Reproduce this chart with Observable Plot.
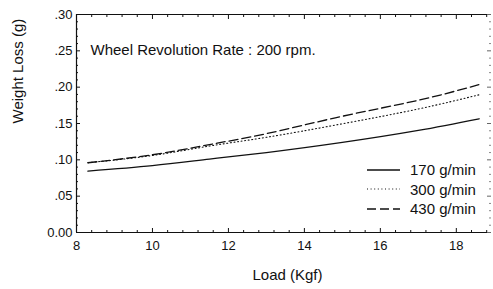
<!DOCTYPE html>
<html><head><meta charset="utf-8">
<script src="https://cdn.jsdelivr.net/npm/d3@7"></script>
<script src="https://cdn.jsdelivr.net/npm/@observablehq/plot@0.6"></script>
<style>
body{margin:0;background:#fff}
#c{position:relative;width:493px;height:289px;font-family:"Liberation Sans",Arial,sans-serif;color:#111}
#legend{position:absolute;left:367px;top:160px;font-size:15px}
#legend .row{display:flex;align-items:center;height:19.5px}
#legend svg{width:36px;height:10px;margin-right:7px}
</style>
</head><body><div id="c"></div>
<script>
const loads = [8.3, 10, 11.5, 13, 15, 17, 18.6];
const rate170 = [0.0845, 0.092, 0.101, 0.110, 0.124, 0.1405, 0.1565];
const rate300 = [0.096, 0.106, 0.119, 0.131, 0.1496, 0.170, 0.1895];
const rate430 = [0.096, 0.107, 0.121, 0.136, 0.160, 0.182, 0.2035];
const seriesNames = ["170 g/min", "300 g/min", "430 g/min"];
const dashes = [null, "1,2.6", "9,4"];
const xMajor = [8, 10, 12, 14, 16, 18];
const xMinor = [8.4, 8.8, 9.2, 9.6, 10.4, 10.8, 11.2, 11.6, 12.4, 12.8, 13.2, 13.6, 14.4, 14.8, 15.2, 15.6, 16.4, 16.8, 17.2, 17.6, 18.4, 18.8];
const yMajor = [0, 0.05, 0.10, 0.15, 0.20, 0.25, 0.30];
const yMinor = d3.range(1, 30).filter(i => i % 5 !== 0).map(i => i / 100);
const title = "Wheel Revolution Rate : 200 rpm.";

const allSeries = [rate170, rate300, rate430];
const rows = [];
allSeries.forEach((vals, s) => vals.forEach((v, i) => rows.push({load: loads[i], loss: v, series: seriesNames[s]})));

const ink = "#111";
const yFmt = d => d === 0 ? "0.00" : d.toFixed(2).replace(/^0/, "");
const noText = () => "";

const plot = Plot.plot({
  width: 493, height: 289,
  marginLeft: 76, marginRight: 3, marginTop: 14, marginBottom: 57,
  style: {fontFamily: "Liberation Sans, Arial, sans-serif", color: ink, background: "#fff"},
  x: {domain: [8, 18.9]},
  y: {domain: [0, 0.30]},
  marks: [
    Plot.ruleX([8], {stroke: ink, strokeWidth: 1.2}),
    Plot.ruleY([0, 0.30], {stroke: ink, strokeWidth: 1.2}),
    Plot.axisX(xMajor, {anchor: "bottom", tickSize: 0, tickPadding: 8, fontSize: 13, label: null, fill: ink}),
    Plot.axisX(xMajor, {anchor: "bottom", tickSize: -4, tickFormat: noText, label: null, stroke: ink}),
    Plot.axisX(xMinor, {anchor: "bottom", tickSize: -2, tickFormat: noText, label: null, stroke: ink}),
    Plot.axisX(xMajor, {anchor: "top", tickSize: -4, tickFormat: noText, label: null, stroke: ink}),
    Plot.axisX(xMinor, {anchor: "top", tickSize: -2, tickFormat: noText, label: null, stroke: ink}),
    Plot.axisY(yMajor, {anchor: "left", tickSize: 0, tickPadding: 4, fontSize: 13, tickFormat: yFmt, label: null, fill: ink}),
    Plot.axisY(yMajor, {anchor: "left", tickSize: -4, tickFormat: noText, label: null, stroke: ink}),
    Plot.axisY(yMinor, {anchor: "left", tickSize: -2, tickFormat: noText, label: null, stroke: ink}),
    Plot.axisY(yMajor, {anchor: "right", tickSize: -4, tickFormat: noText, label: null, stroke: "#666"}),
    Plot.axisY(yMinor, {anchor: "right", tickSize: -2, tickFormat: noText, label: null, stroke: "#888"}),
    ...seriesNames.map((name, s) => Plot.line(rows.filter(r => r.series === name), {
      x: "load", y: "loss", curve: "natural", stroke: ink, strokeWidth: s === 1 ? 1.1 : 1.3,
      strokeDasharray: dashes[s]
    })),
    Plot.text([title], {frameAnchor: "top-left", dx: 14, dy: 36, textAnchor: "start", lineAnchor: "middle", fontSize: 15, fill: ink}),
    Plot.text(["Load (Kgf)"], {frameAnchor: "bottom", dx: 4, dy: 43, lineAnchor: "middle", fontSize: 15, fill: ink}),
    Plot.text(["Weight Loss (g)"], {frameAnchor: "left", dx: -58, rotate: -90, lineAnchor: "middle", fontSize: 15, fill: ink})
  ]
});

const c = document.getElementById("c");
c.appendChild(plot);
const lg = document.createElement("div");
lg.id = "legend";
seriesNames.forEach((name, s) => {
  const row = document.createElement("div");
  row.className = "row";
  row.innerHTML = `<svg viewBox="0 0 36 10"><line x1="0" y1="5" x2="33" y2="5" stroke="${ink}" stroke-width="${s === 1 ? 1.1 : 1.3}" ${dashes[s] ? `stroke-dasharray="${dashes[s]}"` : ""}/></svg><span>${name}</span>`;
  lg.appendChild(row);
});
c.appendChild(lg);
</script>
</body></html>
